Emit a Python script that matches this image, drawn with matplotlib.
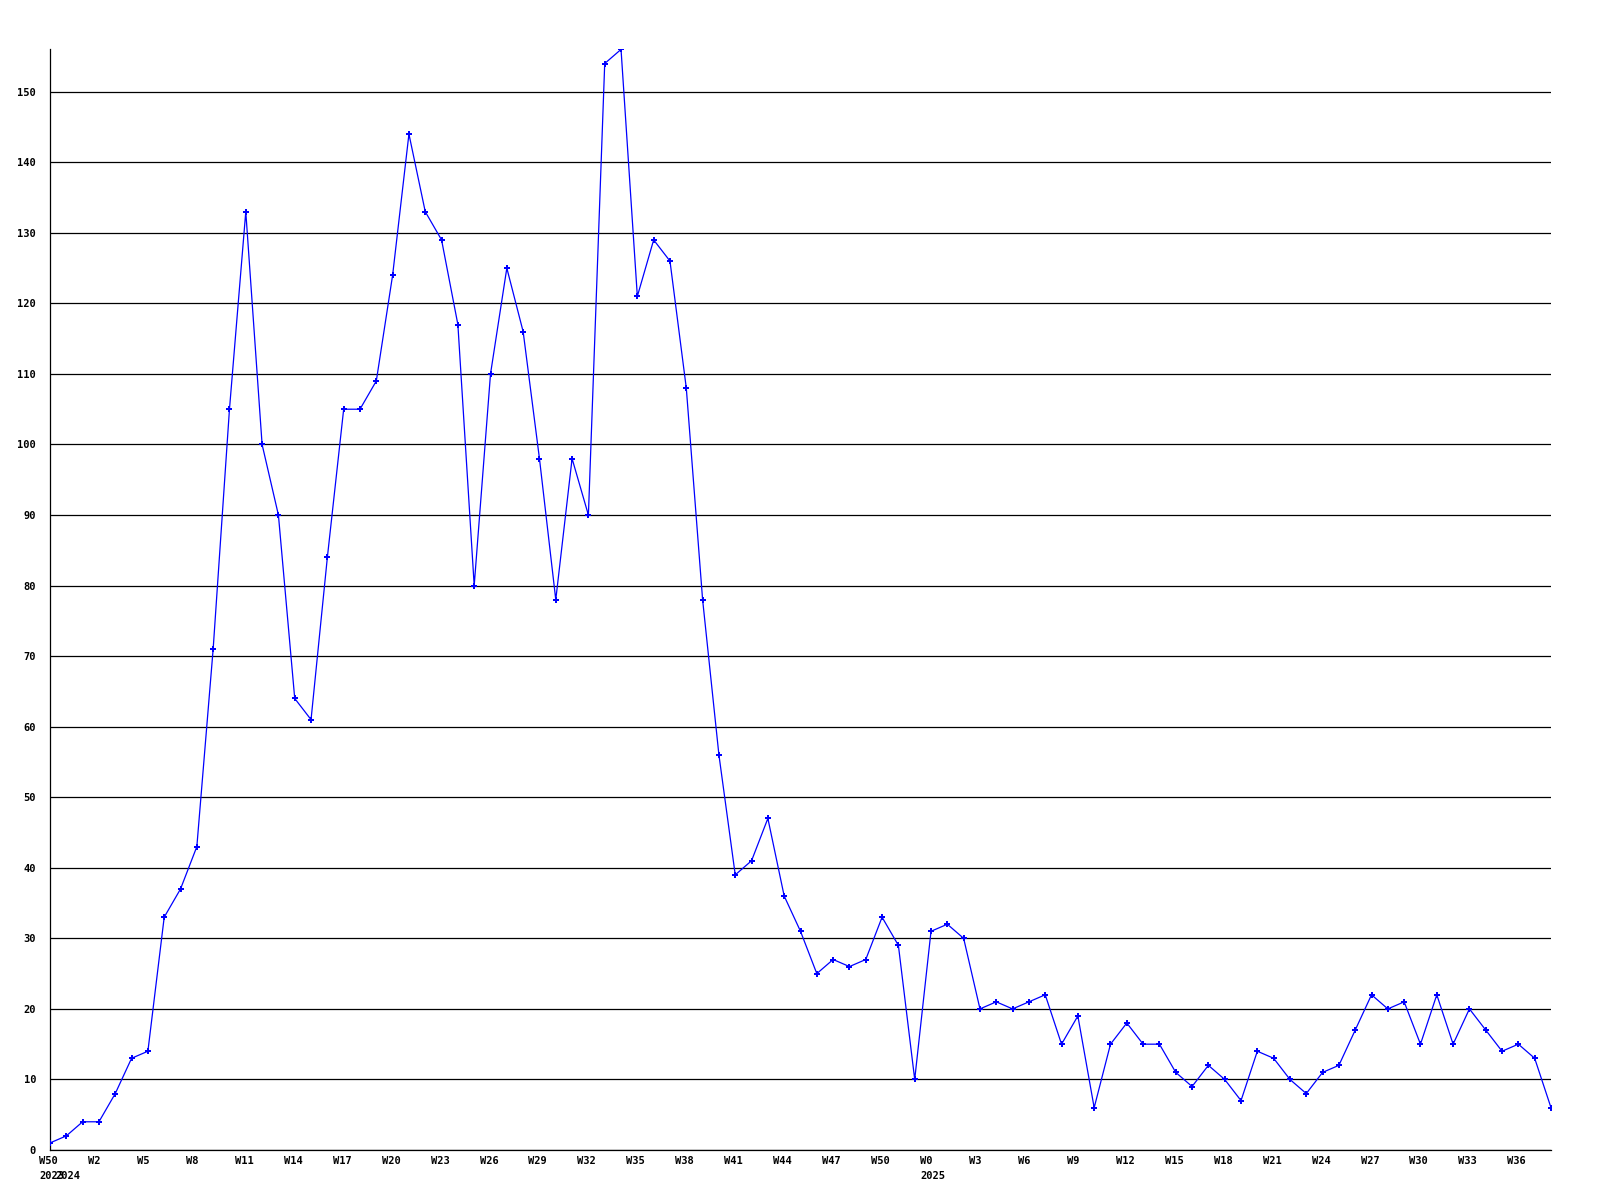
import numpy as np
import matplotlib
matplotlib.use('Agg')
import matplotlib.pyplot as plt
import matplotlib.transforms as mtransforms

# weekly counts, 2023-W50 .. 2025-W38
counts = [1, 2, 4, 4, 8, 13, 14, 33, 37, 43,
          71, 105, 133, 100, 90, 64, 61, 84, 105, 105,
          109, 124, 144, 133, 129, 117, 80, 110, 125, 116,
          98, 78, 98, 90, 154, 156, 121, 129, 126, 108,
          78, 56, 39, 41, 47, 36, 31, 25, 27, 26,
          27, 33, 29, 10, 31, 32, 30, 20, 21, 20,
          21, 22, 15, 19, 6, 15, 18, 15, 15, 11,
          9, 12, 10, 7, 14, 13, 10, 8, 11, 12,
          17, 22, 20, 21, 15, 22, 15, 20, 17, 14,
          15, 13, 6]

# x labels every 3rd week
tick_idx = list(range(0, 93, 3))
tick_labels = ['W50', 'W2', 'W5', 'W8', 'W11', 'W14', 'W17', 'W20', 'W23', 'W26',
               'W29', 'W32', 'W35', 'W38', 'W41', 'W44', 'W47', 'W50', 'W0', 'W3',
               'W6', 'W9', 'W12', 'W15', 'W18', 'W21', 'W24', 'W27', 'W30', 'W33',
               'W36']
year_idx = [0, 1, 54]
year_labels = ['2023', '2024', '2025']

ytick_vals = list(range(0, 151, 10))

fnt = dict(family='DejaVu Sans Mono', weight='bold', size=7.5)

fig = plt.figure(figsize=(16, 12), dpi=100)
ax = fig.add_axes([50 / 1600, 50 / 1200, 1501 / 1600, 1100.6 / 1200])

x = np.arange(len(counts))
ax.plot(x, counts, color='#0000ff', lw=0.9, marker='P', ms=4, mew=0, zorder=3)

ax.set_xlim(0, len(counts) - 1)
ax.set_ylim(0, max(counts))

ax.set_yticks(ytick_vals)
ax.set_yticklabels([str(v) for v in ytick_vals], **fnt)
ax.yaxis.grid(True, color='black', lw=0.9)
ax.set_axisbelow(True)

# week labels drawn as text, left edge a bit before each point
ax.set_xticks(tick_idx)
ax.set_xticklabels([])
ax.tick_params(axis='both', length=0)
ax.tick_params(axis='y', pad=10)

shift = mtransforms.ScaledTranslation(-11 / 100, 0, fig.dpi_scale_trans)
trans = mtransforms.blended_transform_factory(ax.transData, ax.transAxes) + shift
for i, lab in zip(tick_idx, tick_labels):
    ax.text(i, -0.0055, lab, transform=trans, ha='left', va='top', **fnt)
for i, yl in zip(year_idx, year_labels):
    ax.text(i, -0.0195, yl, transform=trans, ha='left', va='top', **fnt)

for sp in ['top', 'right']:
    ax.spines[sp].set_visible(False)
for sp in ['left', 'bottom']:
    ax.spines[sp].set_color('black')
    ax.spines[sp].set_linewidth(0.9)

fig.savefig('out.png', dpi=100)
